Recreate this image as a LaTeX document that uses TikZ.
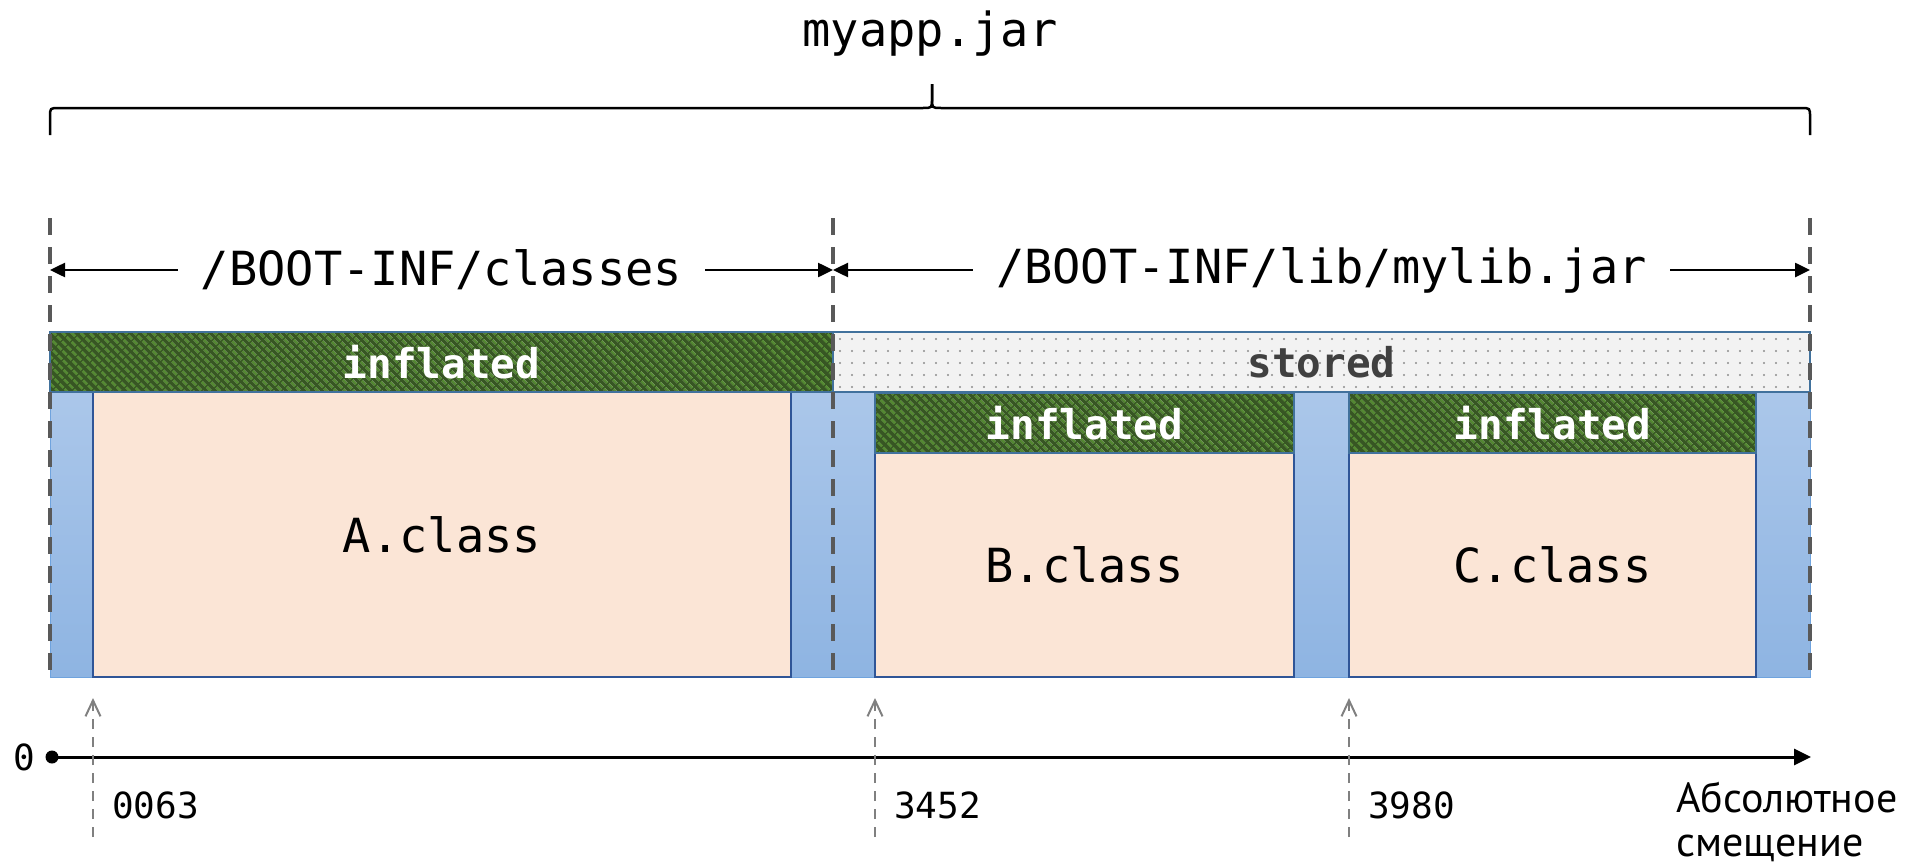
\documentclass[tikz,border=0pt]{standalone}
\usepackage{fontspec}
\setmonofont{DejaVu Sans Mono}
\newfontfamily\cyrfont{PT Sans}
\usetikzlibrary{arrows.meta,patterns.meta}
\definecolor{hatchdark}{HTML}{375623}
\definecolor{hatchlight}{HTML}{558A33}
\definecolor{storedgray}{HTML}{F2F2F2}
\definecolor{storedtext}{HTML}{404040}
\definecolor{dotgray}{HTML}{8C8C8C}
\definecolor{classpink}{HTML}{FBE5D6}
\definecolor{boxblue}{HTML}{2F5597}
\definecolor{bandblue}{HTML}{41719C}
\definecolor{bartop}{HTML}{ABC7EA}
\definecolor{barbottom}{HTML}{8EB4E2}
\definecolor{barline}{HTML}{6FA3DE}
\definecolor{guidegray}{HTML}{595959}
\definecolor{pointgray}{HTML}{808080}

\begin{document}
\begin{tikzpicture}[x=1pt,y=-1pt,
  mono/.style={font=\ttfamily\fontsize{47}{47}\selectfont},
  band/.style={draw=bandblue,line width=1.5pt,inner sep=0,outer sep=0,font=\ttfamily\bfseries\fontsize{41}{41}\selectfont},
  inflated/.style={band,preaction={fill=hatchdark},pattern={Lines[angle=-45,distance=6.4pt,line width=2.8pt]},pattern color=hatchlight,text=white},
  stored/.style={band,preaction={fill=storedgray},pattern={Dots[distance=12pt,radius=1.1pt]},pattern color=dotgray,text=storedtext},
  classbox/.style={mono,draw=boxblue,line width=2pt,fill=classpink,inner sep=0,outer sep=0},
  guide/.style={draw=guidegray,line width=3.5pt,dash pattern=on 17pt off 12pt},
  dim/.style={line width=2.5pt,-{Triangle[length=15pt,width=14pt]}},
  pointer/.style={draw=pointgray,line width=2pt,dash pattern=on 10pt off 8pt,-{Straight Barb[length=16pt,width=15pt]}},
  offset/.style={anchor=west,inner sep=0,font=\ttfamily\fontsize{36}{36}\selectfont}]
\useasboundingbox (0,0) rectangle (1918,867);

% jar brace
\node[mono,anchor=base] (jar) at (930,47) {myapp.jar};
\coordinate (bl) at (50,135);
\coordinate (br) at (1810,135);
\coordinate (bt) at (932,84);
\draw[line width=2.5pt] (bl) -- (50,117) .. controls (50,108) .. (59,108) -- (923,108) .. controls (932,108) .. (932,99) -- (bt);
\draw[line width=2.5pt] (bt) -- (932,99) .. controls (932,108) .. (941,108) -- (1801,108) .. controls (1810,108) .. (1810,117) -- (br);

% entries
\node[draw=barline,line width=1pt,top color=bartop,bottom color=barbottom,inner sep=0,minimum width=1760pt,minimum height=285pt] (bars) at (930,534.5) {};
\node[classbox,minimum width=698pt,minimum height=285pt] (A) at (442,534.5) {A.class};
\foreach \n/\x/\w in {B/1084.5/419,C/1552.5/407}{
  \node[classbox,minimum width=\w pt,minimum height=224pt] (\n) at (\x,565) {\n.class};
  \node[inflated,minimum width=\w pt,minimum height=60pt] (inf\n) at (\x,423) {inflated};
}
\node[inflated,minimum width=783pt,minimum height=60pt] (infA) at (441.5,362) {inflated};
\node[stored,minimum width=977pt,minimum height=60pt] (stLib) at (1321.5,362) {stored};

% folders
\foreach \x [count=\i] in {50,833,1810}{
  \coordinate (gt\i) at (\x,218);
  \coordinate (gb\i) at (\x,679);
  \coordinate (d\i) at (\x,270);
  \draw[guide] (gt\i) -- (gb\i);
}
\node[mono,inner xsep=23pt] (cls) at (441.5,270) {/BOOT-INF/classes};
\node[mono,inner xsep=23pt] (lib) at (1321.5,270) {/BOOT-INF/lib/mylib.jar};
\draw[dim] (cls) -- (d1);
\draw[dim] (cls) -- (d2);
\draw[dim] (lib) -- (d2);
\draw[dim] (lib) -- (d3);

% offsets
\coordinate (o) at (52,757);
\coordinate (oend) at (1811,757);
\node[font=\ttfamily\fontsize{36}{36}\selectfont] (zero) at (24,757) {0};
\draw[line width=3pt,-{Triangle[length=17pt,width=16pt]}] (o) -- (oend);
\fill (o) circle (6.5pt);
\foreach \x/\t in {93/0063,875/3452,1349/3980}{
  \coordinate (p\t) at (\x,837);
  \coordinate (q\t) at (\x,698);
  \draw[pointer] (p\t) -- (q\t);
  \node[offset] (l\t) at (\x+19,805) {\t};
}
\node[anchor=west,inner sep=0,align=left,font=\cyrfont\fontsize{42}{44}\selectfont] (axislbl) at (1676,822) {Абсолютное\\смещение};
\end{tikzpicture}
\end{document}
